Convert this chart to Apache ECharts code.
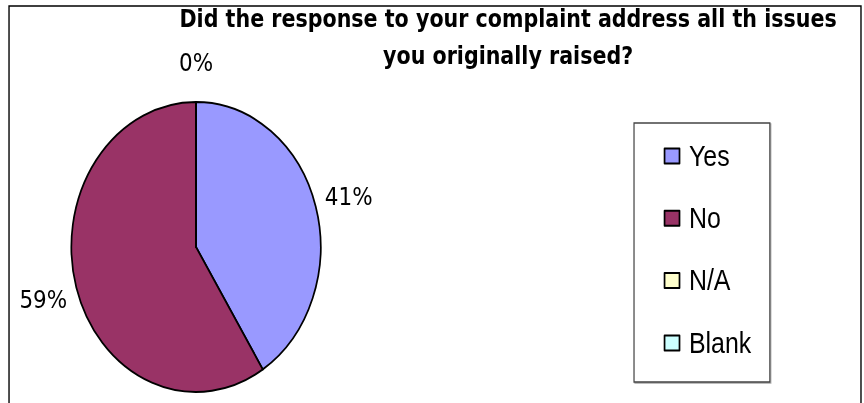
<!DOCTYPE html>
<html>
<head>
<meta charset="utf-8">
<script src="https://cdn.jsdelivr.net/npm/echarts@6/dist/echarts.min.js"></script>
<style>
  html, body { margin: 0; padding: 0; background: #fff; overflow: hidden; width: 864px; height: 403px; }
  /* The chart is laid out on a wider canvas and squeezed horizontally,
     which gives the oval pie and the narrow lettering. */
  #chart { position: absolute; left: 0; top: 0; width: 1005px; height: 403px;
           transform: scaleX(0.8597015); transform-origin: 0 0; }
</style>
</head>
<body>
<div id="chart"></div>
<script>
// Survey answers
const categories = ['Yes', 'No', 'N/A', 'Blank'];
const shares = [41, 59, 0, 0];
const sliceColors = ['#9999FF', '#993366', '#FFFFCC', '#CCFFFF'];
const titleLines = ['Did the response to your complaint address all th issues', 'you originally raised?'];

const pieData = categories.map((name, i) => ({
  name: name,
  value: shares[i],
  itemStyle: { color: sliceColors[i] }
}));

const chart = echarts.init(document.getElementById('chart'), null, { renderer: 'svg' });

chart.setOption({
  animation: false,
  backgroundColor: '#ffffff',
  title: {
    text: titleLines.join('\n'),
    left: 591,
    top: 0,
    padding: 0,
    textAlign: 'center',
    textStyle: {
      fontFamily: 'DejaVu Sans',
      fontWeight: 'bold',
      fontSize: 24,
      lineHeight: 37,
      color: '#000'
    }
  },
  graphic: [
    {
      type: 'rect',
      z: -10,
      silent: true,
      shape: { x: 10.5, y: 6, width: 991, height: 420 },
      style: { fill: 'none', stroke: '#000', lineWidth: 1.6 }
    },
    {
      type: 'rect',
      z: 1,
      silent: true,
      shape: { x: 737.5, y: 123, width: 158, height: 259 },
      style: {
        fill: '#fff', stroke: '#444', lineWidth: 1.4,
        shadowColor: 'rgba(0,0,0,0.35)', shadowOffsetX: 1, shadowOffsetY: 1, shadowBlur: 0
      }
    }
  ],
  legend: {
    data: categories,
    orient: 'vertical',
    left: 772,
    top: 141,
    padding: 0,
    itemGap: 32.3,
    itemWidth: 17.4,
    itemHeight: 15,
    icon: 'rect',
    selectedMode: false,
    itemStyle: { borderColor: '#000', borderWidth: 2 },
    textStyle: {
      fontFamily: 'Liberation Sans',
      fontSize: 29,
      lineHeight: 30,
      color: '#000',
      padding: [0, 0, 0, 6]
    }
  },
  series: [
    {
      name: 'Answers',
      type: 'pie',
      center: [228, 247],
      radius: 145,
      startAngle: 90,
      clockwise: true,
      silent: true,
      avoidLabelOverlap: false,
      itemStyle: { borderColor: '#000', borderWidth: 2 },
      label: { show: false },
      labelLine: { show: false },
      emphasis: { disabled: true },
      data: pieData
    },
    {
      name: 'Share labels',
      type: 'pie',
      center: [228, 247],
      radius: [170, 194],
      startAngle: 90,
      clockwise: true,
      silent: true,
      avoidLabelOverlap: false,
      itemStyle: { color: 'rgba(0,0,0,0)', borderWidth: 0 },
      label: {
        show: true,
        position: 'inside',
        formatter: '{d}%',
        fontFamily: 'DejaVu Sans',
        fontSize: 25,
        color: '#000'
      },
      labelLine: { show: false },
      emphasis: { disabled: true },
      data: categories.map((name, i) => ({ name: name, value: shares[i] }))
    }
  ]
});
</script>
</body>
</html>
